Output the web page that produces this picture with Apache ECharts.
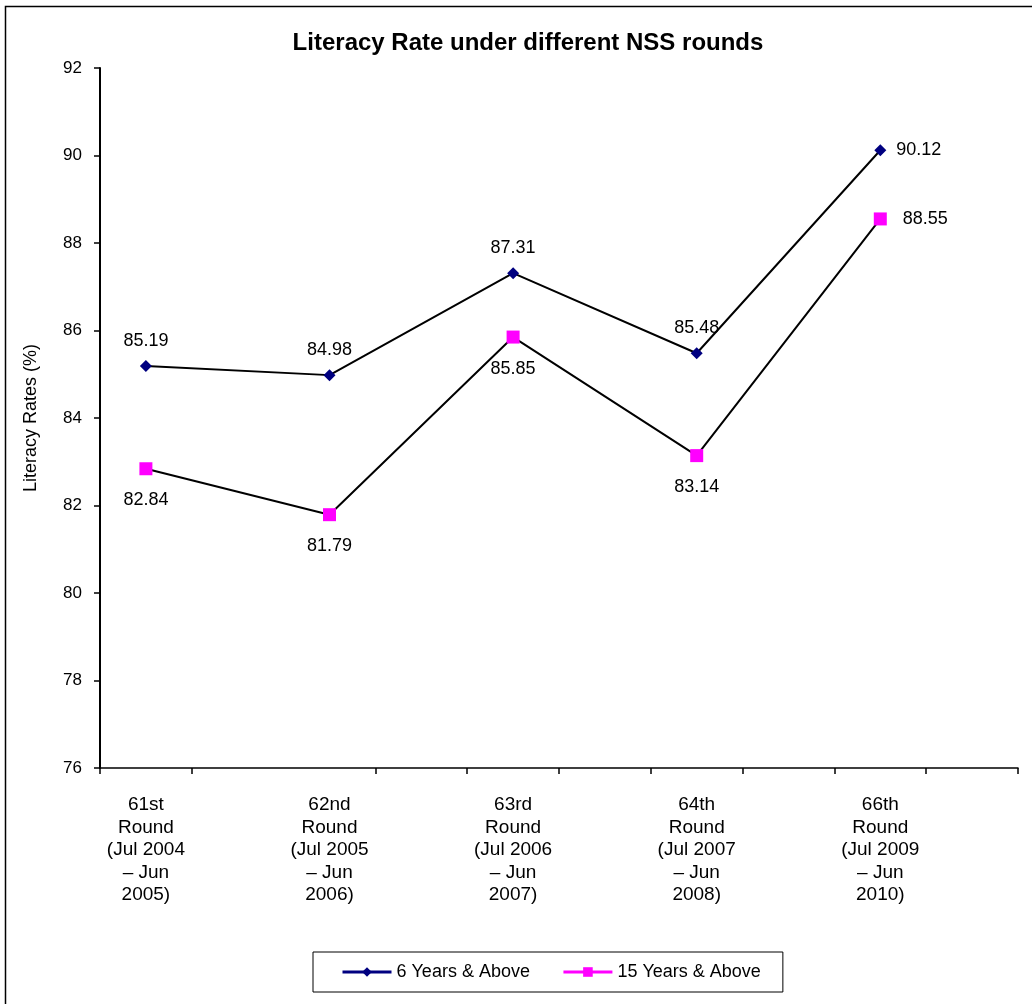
<!DOCTYPE html>
<html>
<head>
<meta charset="utf-8">
<title>Literacy Rate under different NSS rounds</title>
<script src="https://cdn.jsdelivr.net/npm/echarts@6/dist/echarts.min.js"></script>
<style>
  html, body { margin: 0; padding: 0; background: #ffffff; }
  #chart { width: 1032px; height: 1004px; }
</style>
</head>
<body>
<div id="chart"></div>
<script>
// NSS survey rounds shown on the horizontal axis
const rounds = [
  '61st\nRound\n(Jul 2004\n\u2013 Jun\n2005)',
  '62nd\nRound\n(Jul 2005\n\u2013 Jun\n2006)',
  '63rd\nRound\n(Jul 2006\n\u2013 Jun\n2007)',
  '64th\nRound\n(Jul 2007\n\u2013 Jun\n2008)',
  '66th\nRound\n(Jul 2009\n\u2013 Jun\n2010)'
];

// Literacy rates (%) per round
const age6Above = [85.19, 84.98, 87.31, 85.48, 90.12];
const age15Above = [82.84, 81.79, 85.85, 83.14, 88.55];

const seriesNames = ['6 Years & Above', '15 Years & Above'];

// y-axis scale
const yMin = 76;
const yMax = 92;
const yStep = 2;

const FONT = '"Liberation Sans", Arial, sans-serif';
const NAVY = '#000080';
const MAGENTA = '#ff00ff';

// Each round occupies two half-width slots on the category axis,
// so the points sit on the even slots and ticks fall every half round.
const slots = [];
rounds.forEach(r => { slots.push(r); slots.push(''); });

function buildPoints(values, below) {
  const last = values.length - 1;
  return values.map((v, i) => ({
    value: [2 * i, v],
    label: { position: i === last ? 'right' : (below ? 'bottom' : 'top') }
  }));
}

const chart = echarts.init(document.getElementById('chart'), null, { renderer: 'canvas' });

const option = {
  backgroundColor: '#ffffff',
  animation: false,
  title: {
    text: 'Literacy Rate under different NSS rounds',
    left: 523,
    top: 26,
    textAlign: 'center',
    textStyle: { fontFamily: FONT, fontSize: 24, fontWeight: 'bold', color: '#000' }
  },
  graphic: [{
    type: 'rect',
    silent: true,
    shape: { x: 5.5, y: 6.5, width: 1200, height: 1200 },
    style: { fill: 'none', stroke: '#000', lineWidth: 1.5 }
  }],
  legend: {
    left: 313,
    top: 952,
    padding: [11, 22, 11, 28],
    borderColor: '#000',
    borderWidth: 1,
    itemWidth: 49,
    itemHeight: 12,
    itemGap: 32,
    textStyle: { fontFamily: FONT, fontSize: 18, color: '#000' },
    data: [
      { name: seriesNames[0], lineStyle: { color: NAVY, width: 3 }, itemStyle: { color: NAVY } },
      { name: seriesNames[1], lineStyle: { color: MAGENTA, width: 3 }, itemStyle: { color: MAGENTA } }
    ]
  },
  grid: { left: 100, right: 14, top: 68, bottom: 236, containLabel: false },
  xAxis: {
    type: 'category',
    data: slots,
    boundaryGap: true,
    axisLine: { show: true, onZero: false, lineStyle: { color: '#000', width: 1.5 } },
    axisTick: {
      show: true,
      length: 6,
      interval: function (idx) { return idx !== 2; },
      lineStyle: { color: '#000', width: 1.5 }
    },
    axisLabel: {
      interval: 0,
      margin: 26,
      fontFamily: FONT,
      fontSize: 19,
      lineHeight: 22.5,
      color: '#000',
      align: 'center'
    },
    splitLine: { show: false }
  },
  yAxis: {
    type: 'value',
    min: yMin,
    max: yMax,
    interval: yStep,
    name: 'Literacy Rates (%)',
    nameLocation: 'middle',
    nameGap: 60,
    nameRotate: 90,
    nameTextStyle: { fontFamily: FONT, fontSize: 18, color: '#000' },
    axisLine: { show: true, lineStyle: { color: '#000', width: 2 } },
    axisTick: { show: true, length: 6, lineStyle: { color: '#000', width: 1.5 } },
    axisLabel: { margin: 18, fontFamily: FONT, fontSize: 17, color: '#000' },
    splitLine: { show: false }
  },
  series: [
    {
      name: seriesNames[0],
      type: 'line',
      data: buildPoints(age6Above, false),
      symbol: 'diamond',
      symbolSize: 12,
      itemStyle: { color: NAVY },
      lineStyle: { color: '#000', width: 2 },
      label: {
        show: true,
        distance: 10,
        fontFamily: FONT,
        fontSize: 18,
        color: '#000',
        formatter: p => p.value[1].toFixed(2)
      },
      z: 3
    },
    {
      name: seriesNames[1],
      type: 'line',
      data: buildPoints(age15Above, true),
      symbol: 'rect',
      symbolSize: 13,
      itemStyle: { color: MAGENTA },
      lineStyle: { color: '#000', width: 2 },
      label: {
        show: true,
        distance: 16,
        fontFamily: FONT,
        fontSize: 18,
        color: '#000',
        formatter: p => p.value[1].toFixed(2)
      },
      z: 3
    }
  ]
};

chart.setOption(option);
</script>
</body>
</html>
